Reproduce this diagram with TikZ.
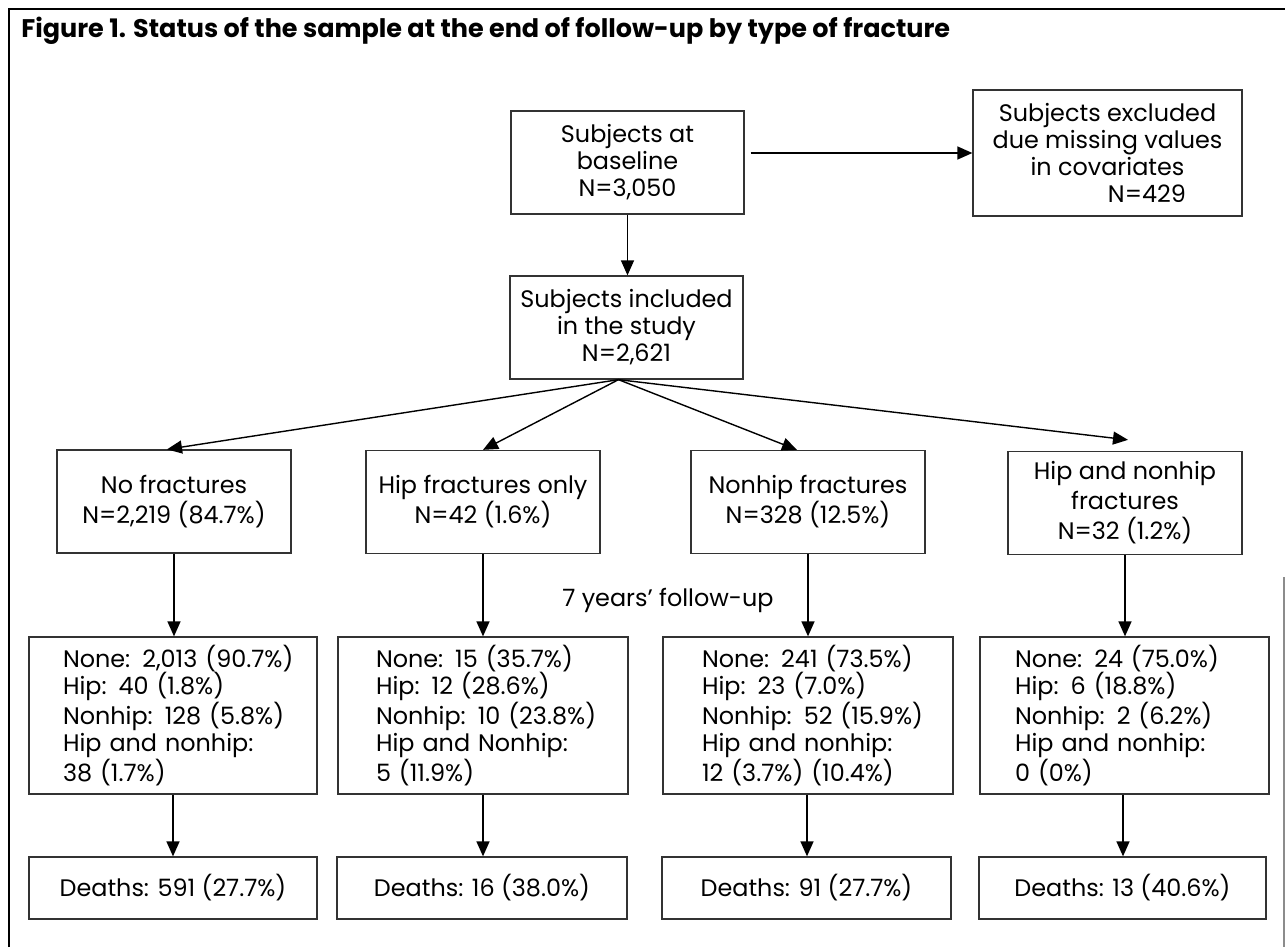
\documentclass[tikz,border=0pt]{standalone}
\usepackage{fontspec}
\setmainfont{Poppins}
\usetikzlibrary{arrows.meta,calc}
\newdimen\px
\px=0.02cm
\newcommand\fsA{\fontsize{13.6pt}{15.4pt}\selectfont}
\newcommand\fsB{\fontsize{13.6pt}{17.1pt}\selectfont}
\newcommand\fsT{\fontsize{14.5pt}{16pt}\selectfont\bfseries}
\begin{document}
\begin{tikzpicture}[x=0.02cm,y=-0.02cm,
  box/.style={draw=black!80, line width=0.75pt, rectangle, inner sep=0pt, align=center, font=\fsA},
  topbox/.style={box, minimum width=4.66cm, minimum height=2.06cm},
  catbox/.style={box, font=\fsB, minimum width=4.68cm, minimum height=2.06cm},
  statbox/.style={box, align=left, inner xsep=0pt, minimum height=3.14cm},
  deathbox/.style={box, minimum height=1.24cm},
  arr/.style={draw=black, line width=0.8pt, -{Triangle[length=0.3cm,width=0.26cm]}},
  frameline/.style={line width=1.6pt}]
\useasboundingbox (0,0) rectangle (1285,947);

% frame
\draw[frameline] (9,947) -- (9,9) -- (1285,9);
\draw[black!45, line width=0.6pt] (1284,577) -- (1284,947);

% title
\node[font=\fsT, anchor=base west, inner sep=0pt] (title) at (21,37)
  {Figure 1. Status of the sample at the end of follow-up by type of fracture};

% top
\node[topbox] (base) at (627.5,162.5) {Subjects at\\baseline\\N=3,050};
\node[box, minimum width=5.38cm, minimum height=2.52cm] (excl) at (1107.5,153)
  {Subjects excluded\\due missing values\\in covariates\\\hspace*{3.3em}N=429};
\node[topbox] (incl) at (626.5,327.5) {Subjects included\\in the study\\N=2,621};

% categories
\node[catbox] (nofr) at (174,501.5) {No fractures\\N=2,219 (84.7\%)};
\node[catbox] (hipo) at (483,502) {Hip fractures only\\N=42 (1.6\%)};
\node[catbox] (nonh) at (808,502) {Nonhip fractures\\N=328 (12.5\%)};
\node[catbox] (both) at (1125,503) {Hip and nonhip\\fractures\\N=32 (1.2\%)};

% follow-up status
\node[statbox, text width=5.76cm] (s1) at (173,715.5)
  {\leftskip=34\px None: 2,013 (90.7\%)\\Hip: 40 (1.8\%)\\Nonhip: 128 (5.8\%)\\Hip and nonhip:\\38 (1.7\%)\par};
\node[statbox, text width=5.8cm] (s2) at (483,715.5)
  {\leftskip=38\px None: 15 (35.7\%)\\Hip: 12 (28.6\%)\\Nonhip: 10 (23.8\%)\\Hip and Nonhip:\\5 (11.9\%)\par};
\node[statbox, text width=5.8cm] (s3) at (808,715.5)
  {\leftskip=39\px None: 241 (73.5\%)\\Hip: 23 (7.0\%)\\Nonhip: 52 (15.9\%)\\Hip and nonhip:\\12 (3.7\%) (10.4\%)\par};
\node[statbox, text width=5.78cm] (s4) at (1124.5,715.5)
  {\leftskip=35\px None: 24 (75.0\%)\\Hip: 6 (18.8\%)\\Nonhip: 2 (6.2\%)\\Hip and nonhip:\\0 (0\%)\par};

% deaths
\node[deathbox, minimum width=5.76cm] (d1) at (173,888) {Deaths: 591 (27.7\%)};
\node[deathbox, minimum width=5.8cm] (d2) at (482,888) {Deaths: 16 (38.0\%)};
\node[deathbox, minimum width=5.78cm] (d3) at (806.5,888) {Deaths: 91 (27.7\%)};
\node[deathbox, minimum width=5.74cm] (d4) at (1122.5,888) {Deaths: 13 (40.6\%)};

\node[font=\fsA, anchor=base west, inner sep=0pt] (fu) at (562,606) {7 years’ follow-up};

% connectors
\draw[arr] ($(base.east|-excl.west)+(6,0)$) -- (excl.west);
\draw[arr] (base.south) -- (base.south|-incl.north);
\coordinate (fan) at ($(incl.south)+(-8,0)$);
\draw[arr] (fan) -- ($(nofr.north)+(-7,0)$);
\draw[arr] (fan) -- (hipo.north);
\draw[arr] (fan) -- ($(nonh.north)+(-11,0)$);
\draw[arr] (fan) -- ($(both.north)+(3,-11)$);

\draw[arr] (nofr.south) -- (nofr.south|-s1.north);
\draw[arr] (hipo.south) -- (hipo.south|-s2.north);
\draw[arr] (nonh.south) -- (nonh.south|-s3.north);
\draw[arr] (both.south) -- (both.south|-s4.north);

\draw[arr] (s1.south) -- (s1.south|-d1.north);
\draw[arr] (s2.south) -- (s2.south|-d2.north);
\draw[arr] ($(s3.south)+(-1,0)$) -- ($(s3.south|-d3.north)+(-1,0)$);
\draw[arr] ($(s4.south)+(-1.5,0)$) -- ($(s4.south|-d4.north)+(-1.5,0)$);
\end{tikzpicture}
\end{document}
